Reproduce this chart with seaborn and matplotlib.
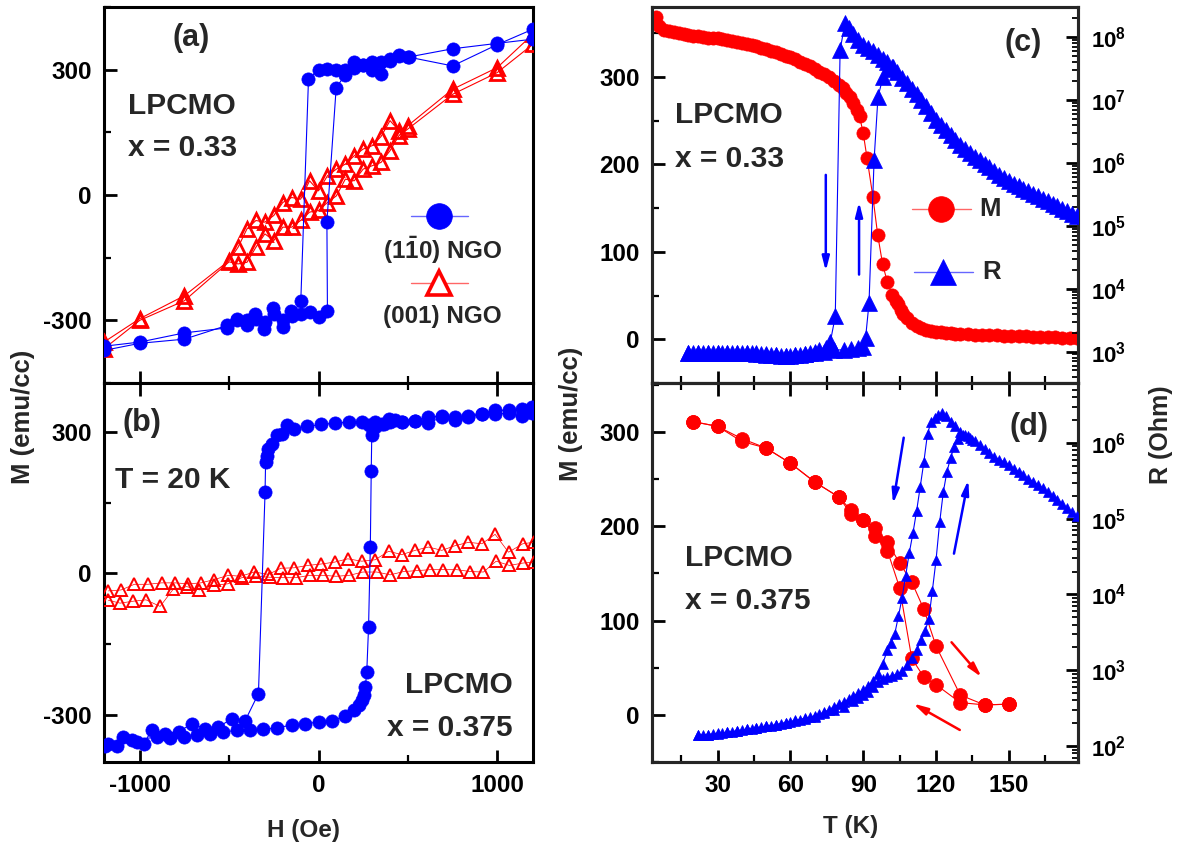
import numpy as np
import pandas as pd
import matplotlib
matplotlib.use("Agg")
import matplotlib.pyplot as plt
from matplotlib.ticker import MultipleLocator, LogLocator, FuncFormatter, NullFormatter
import seaborn as sns

# ---------------------------------------------------------------- data
# (a) LPCMO x = 0.33, M-H loops (Oe, emu/cc)
H_a_110_down = [1200, 1000, 750, 500, 450, 400, 350, 300, 250, 200, 150, 100, 50, 0, -56,
                -99, -150, -200, -250, -300, -350, -400, -455, -510, -750, -1000, -1200]
M_a_110_down = [373, 363, 350, 330, 335, 320, 318, 318, 310, 305, 300, 300, 302, 300, 277,
                -253, -290, -300, -285, -305, -298, -312, -300, -318, -330, -352, -362]
H_a_110_up = [-1200, -1000, -750, -510, -455, -400, -355, -305, -252, -200, -153, -100, -47, 0, 50,
              47, 99, 150, 200, 250, 300, 350, 400, 450, 505, 750, 1000, 1200]
M_a_110_up = [-372, -355, -345, -312, -296, -300, -285, -320, -271, -316, -277, -285, -281, -292, -277,
              -64, 257, 288, 318, 312, 300, 290, 325, 333, 330, 309, 360, 397]
H_a_001_down = [1200, 1000, 750, 500, 450, 400, 350, 300, 250, 200, 150, 100, 50, 0,
                -50, -100, -150, -200, -250, -300, -350, -400, -450, -500, -750, -1000, -1200]
M_a_001_down = [385, 305, 253, 166, 154, 178, 140, 118, 110, 94, 74, 62, 46, 10,
                34, -10, -6, -18, -49, -65, -61, -81, -125, -157, -241, -296, -352]
H_a_001_up = [-1200, -1000, -750, -500, -450, -400, -350, -300, -250, -200, -150, -100, -50, 0,
              50, 100, 150, 200, 250, 300, 350, 400, 450, 500, 750, 1000, 1200]
M_a_001_up = [-368, -300, -253, -160, -165, -161, -125, -93, -109, -77, -77, -61, -41, -37,
              -18, -2, 38, 34, 62, 70, 78, 106, 142, 158, 241, 293, 361]

# (b) LPCMO x = 0.375, M-H loops at T = 20 K
H_b_110_down = [1194, 1138, 1063, 988, 914, 839, 765, 690, 615, 541,
                466, 429, 392, 355, 317, 280, 242, 168, 93, 15,
                -62, -136, -177, -205, -233, -261, -280, -290, -296, -299,
                -336, -410, -485, -560, -634, -709, -783, -858, -932, -979,
                -1016, -1091, -1128, -1175]
M_b_110_down = [340, 333, 340, 338, 338, 331, 326, 331, 320, 324,
                321, 325, 328, 318, 322, 315, 321, 321, 319, 316,
                312, 307, 314, 296, 293, 275, 264, 250, 236, 172,
                -255, -312, -308, -326, -329, -319, -336, -340, -333, -361,
                -358, -347, -365, -361]
H_b_110_up = [-1194, -1044, -905, -830, -755, -681, -606, -532, -457, -382,
              -308, -233, -149, -75, 0, 75, 149, 196, 224, 242,
              255, 262, 270, 280, 290, 295, 298, 317, 364, 401,
              466, 541, 615, 690, 765, 839, 914, 988, 1063, 1138, 1194]
M_b_110_up = [-365, -354, -347, -350, -347, -343, -340, -336, -333, -333,
              -331, -327, -322, -319, -315, -312, -303, -290, -280, -268,
              -258, -240, -209, -114, 57, 218, 293, 310, 317, 321,
              321, 324, 331, 335, 331, 335, 338, 346, 346, 349, 353]
H_b_001_a = [-1175, -1104, -1030, -955, -877, -802, -728, -657, -584, -504,
             -435, -360, -280, -211, -136, -60, 15, 90, 164, 242,
             317, 392, 466, 541, 615, 690, 765, 839, 914, 988, 1063, 1143, 1203]
M_b_001_a = [-37, -35, -23, -23, -20, -20, -22, -20, -13, -4,
             -6, 3, -2, 11, 12, 17, 20, 24, 31, 26,
             29, 47, 40, 49, 56, 49, 59, 66, 63, 83, 45, 63, 66]
H_b_001_b = [-1175, -1110, -1039, -965, -886, -812, -737, -666, -584, -507,
             -429, -349, -274, -200, -125, -50, 24, 99, 173, 248,
             326, 401, 476, 550, 625, 699, 774, 849, 923, 994, 1068, 1143, 1203]
M_b_001_b = [-57, -63, -59, -56, -70, -33, -28, -35, -25, -22,
             -9, -6, -8, -9, -9, -4, -4, -6, -4, 3,
             3, -3, 4, 6, 8, 8, 8, 4, 3, 26, 17, 22, 24]

# (c) LPCMO x = 0.33: M(T) and R(T)
T_c_M = [4.5, 6, 8, 10, 12, 14, 16, 18, 20, 22, 24, 26, 28, 30, 32, 34, 36, 38, 40, 42,
         44, 46, 48, 50, 52, 54, 56, 58, 60, 62, 64, 66, 68, 70, 72, 74, 76, 78, 80, 81.5,
         83, 84.5, 86, 87.5, 88.5, 90, 91.6, 94, 96, 98, 100, 102, 103.5, 104.5, 105.5, 106.5, 108, 110, 112, 114,
         116, 118, 120, 122, 124, 126, 128, 130, 133, 136, 139, 142, 145, 148, 151, 154, 157, 160, 163, 166,
         169, 172, 175, 178]
M_c = [368, 358, 354, 352, 351, 350, 349, 348, 347, 346.5, 346, 345, 344.5, 344, 343, 342, 341, 340, 339, 337.5,
       336, 335, 333.5, 332, 330, 328.5, 326.5, 324.5, 322.5, 320, 317.5, 315, 312.5, 309.5, 306, 303, 299.5, 295.5, 291, 287,
       282, 277, 270, 262, 255, 236, 207, 163, 119, 86, 65, 51, 44, 40, 34, 29, 24, 19, 15, 12.5,
       11, 9.5, 8.5, 8, 7.4, 7, 6.6, 6.2, 5.8, 5.4, 5.1, 4.8, 4.5, 4.2, 3.9, 3.6, 3.3, 3, 2.7, 2.4,
       2.1, 1.8, 1.5, 1.2]
T_c_R_cool = [178, 176, 174, 172, 170, 168, 166, 164, 162, 160, 158, 156, 154, 152, 150, 148, 146, 144, 142, 140,
              138, 136, 134, 132, 130, 128, 126, 124, 122, 120, 118, 116, 114, 112, 110, 108, 106, 104, 102, 100,
              98, 96, 94, 92, 90, 88, 86, 84, 82.5, 80.5, 78.5, 76.5, 74.5, 72, 70, 68, 66, 64, 62, 60,
              58, 56, 54, 52, 50, 48, 46, 44, 42, 40, 38, 36, 34, 32, 30, 28, 26, 24, 22, 20, 18]
logR_c_cool = [5.15, 5.19, 5.23, 5.27, 5.31, 5.35, 5.39, 5.43, 5.47, 5.51, 5.55, 5.59, 5.63, 5.67, 5.72, 5.76, 5.81, 5.87, 5.93, 5.99,
               6.04, 6.10, 6.16, 6.22, 6.28, 6.36, 6.44, 6.52, 6.60, 6.69, 6.80, 6.90, 7.00, 7.09, 7.18, 7.27, 7.35, 7.44, 7.52, 7.60,
               7.66, 7.72, 7.78, 7.83, 7.88, 7.95, 8.05, 8.15, 8.22, 7.80, 3.56, 3.16, 3.06, 3.03, 3.00, 2.98, 2.96, 2.95, 2.94, 2.93,
               2.93, 2.93, 2.94, 2.95, 2.96, 2.96, 2.97, 2.97, 2.97, 2.98, 2.98, 2.98, 2.98, 2.98, 2.98, 2.98, 2.98, 2.98, 2.98, 2.98, 2.98]
T_c_R_warm = [18, 22, 26, 30, 34, 38, 42, 46, 50, 54, 58, 62, 66, 70, 74, 78, 82, 85, 88, 90,
              91, 92.4, 94.5, 96.1, 98.2, 100.3, 102.3]
logR_c_warm = [2.98, 2.98, 2.98, 2.98, 2.98, 2.97, 2.97, 2.96, 2.95, 2.94, 2.93, 2.94, 2.96, 2.98, 3.00, 3.02, 3.03, 3.04, 3.06, 3.08,
               3.22, 3.77, 6.05, 7.05, 7.37, 7.50, 7.52]

# (d) LPCMO x = 0.375: M(T) and R(T)
T_d_M_warm = [20, 30, 40, 50, 60, 70, 80, 85, 90, 95, 100, 105, 110, 115, 120, 130, 140, 150]
M_d_warm = [311, 306, 293, 283, 267, 247, 231, 217, 207, 198, 183, 161, 141, 112, 73, 21, 10.6, 11.3]
T_d_M_cool = [150, 140, 130, 120, 115, 110, 105, 100, 95, 90, 85, 80, 70, 60, 50, 40, 30, 20]
M_d_cool = [11.3, 10.6, 13, 32, 40, 60, 135, 174, 190, 207, 213, 231, 247, 267, 283, 290, 306, 311]
T_d_R_cool = [178, 176, 174, 172, 170, 168, 166, 164, 162, 160, 158, 156, 154, 152, 150, 148, 146, 144, 142, 140,
              138, 136, 134, 132, 130, 128, 126, 124, 122.5, 121, 119.5, 118, 116.5, 115, 113.5, 112, 110.5, 109, 107.5, 106,
              104.5, 103, 101.5, 100, 98, 96, 94, 92, 90, 88, 86, 84, 82, 80, 78, 76, 74, 72, 70, 68,
              66, 64, 62, 60, 58, 56, 54, 52, 50, 48, 46, 44, 42, 40, 38, 36, 34, 32, 30, 28, 26, 24, 22]
logR_d_cool = [5.03, 5.09, 5.14, 5.20, 5.25, 5.30, 5.35, 5.40, 5.45, 5.49, 5.53, 5.57, 5.62, 5.66, 5.71, 5.75, 5.78, 5.82, 5.86, 5.92,
               5.97, 6.02, 6.06, 6.10, 6.15, 6.22, 6.28, 6.35, 6.39, 6.37, 6.33, 6.28, 6.12, 5.75, 5.42, 5.10, 4.81, 4.55, 4.25, 3.95,
               3.71, 3.48, 3.36, 3.27, 3.08, 2.95, 2.86, 2.79, 2.74, 2.70, 2.66, 2.62, 2.58, 2.55, 2.52, 2.48, 2.45, 2.42, 2.40, 2.38,
               2.37, 2.35, 2.34, 2.32, 2.31, 2.29, 2.28, 2.27, 2.26, 2.25, 2.24, 2.22, 2.22, 2.21, 2.20, 2.19, 2.18, 2.17, 2.17, 2.16, 2.15, 2.15, 2.14]
T_d_R_warm = [22, 26, 30, 34, 38, 42, 46, 50, 54, 58, 62, 66, 70, 74, 78, 82, 86, 88, 90, 92,
              94, 96, 98, 100, 102, 104, 106, 108, 110, 112, 114, 115.5, 117, 118.5, 120, 121.5, 123, 124.5, 126, 127.5,
              129, 131, 133, 135]
logR_d_warm = [2.14, 2.15, 2.16, 2.18, 2.20, 2.22, 2.24, 2.26, 2.28, 2.31, 2.33, 2.36, 2.39, 2.43, 2.47, 2.52, 2.59, 2.63, 2.67, 2.72,
               2.78, 2.84, 2.88, 2.91, 2.93, 2.95, 2.99, 3.07, 3.16, 3.27, 3.40, 3.52, 3.67, 4.05, 4.45, 4.95, 5.35, 5.62, 5.80, 5.95,
               6.05, 6.11, 6.09, 6.04]

# ---------------------------------------------------------------- style
sns.set_theme(style="ticks")
plt.rcParams.update({
    "font.family": ["Liberation Sans", "DejaVu Sans"],
    "font.weight": "bold",
    "axes.labelweight": "bold",
    "axes.unicode_minus": False,
    "mathtext.fontset": "custom",
    "mathtext.rm": "Liberation Sans:bold",
    "mathtext.bf": "Liberation Sans:bold",
    "mathtext.it": "Liberation Sans:bold",
    "mathtext.default": "rm",
})

BLUE = "#0000ff"
RED = "#ff0000"
TICK_FS = 17.5


def trace(ax, x, y, color, marker, ms, filled=True, mew=0.5, lw=0.8, z=3):
    frame = pd.DataFrame({"x": np.asarray(x, float), "y": np.asarray(y, float)})
    sns.lineplot(data=frame, x="x", y="y", ax=ax, sort=False, estimator=None,
                 color=color, linewidth=lw, marker=marker, markersize=ms,
                 markerfacecolor=color if filled else "none",
                 markeredgecolor=color, markeredgewidth=mew, zorder=z)
    ax.set_xlabel("")
    ax.set_ylabel("")


def frame_axes(ax, top=False, labelbottom=True):
    for s in ax.spines.values():
        s.set_linewidth(2.2)
        s.set_color("black")
    ax.tick_params(which="both", direction="in", top=top, bottom=True, left=True, right=False,
                   labelbottom=labelbottom, labeltop=False, labelsize=TICK_FS, pad=9,
                   color="black", labelcolor="black")
    ax.tick_params(which="major", length=9, width=2.0)
    ax.tick_params(which="minor", length=5, width=1.6)


def log_axis(ax2, lo, hi):
    ax2.set_yscale("log")
    ax2.set_ylim(lo, hi)
    ax2.yaxis.set_major_locator(LogLocator(base=10, numticks=20))
    ax2.yaxis.set_minor_locator(LogLocator(base=10, subs=np.arange(2, 10), numticks=20))
    ax2.yaxis.set_major_formatter(FuncFormatter(lambda v, p: r"$10^{%d}$" % round(np.log10(v))))
    ax2.yaxis.set_minor_formatter(NullFormatter())
    ax2.tick_params(which="both", direction="in", right=True, left=False, labelsize=16, pad=9,
                    color="black", labelcolor="black")
    ax2.tick_params(which="major", length=9, width=2.0)
    ax2.tick_params(which="minor", length=4.5, width=1.3)
    for s in ax2.spines.values():
        s.set_linewidth(2.2)


def legend_key(ax, x0, x1, y, color, marker, ms, filled=True, mew=0.5):
    ax.plot([x0, x1], [y, y], transform=ax.transAxes, color=color, lw=1.0, alpha=0.6, zorder=5)
    ax.plot([(x0 + x1) / 2], [y], transform=ax.transAxes, marker=marker, ms=ms, color=color,
            mfc=color if filled else "white", mec=color, mew=mew, ls="none", zorder=6)


def arrow(ax, tail, tip, color):
    ax.annotate("", xy=tip, xytext=tail,
                arrowprops=dict(arrowstyle="-|>,head_length=0.7,head_width=0.18", color=color,
                                lw=1.8, shrinkA=0, shrinkB=0), zorder=7)


fig = plt.figure(figsize=(11.82, 8.48), dpi=100)


def box(l, t, r, b):
    return [l / 1182, 1 - b / 848, (r - l) / 1182, (b - t) / 848]


ax_a = fig.add_axes(box(104, 7, 533, 383))
ax_b = fig.add_axes(box(104, 383, 533, 762))
ax_c = fig.add_axes(box(652, 7, 1078, 383))
ax_d = fig.add_axes(box(652, 383, 1078, 762))

# ---------------------------------------------------------------- (a)
trace(ax_a, H_a_001_down, M_a_001_down, RED, "^", 10.5, filled=False, mew=2.0)
trace(ax_a, H_a_001_up, M_a_001_up, RED, "^", 10.5, filled=False, mew=2.0)
trace(ax_a, H_a_110_down, M_a_110_down, BLUE, "o", 9.5)
trace(ax_a, H_a_110_up, M_a_110_up, BLUE, "o", 9.5)
ax_a.set_xlim(-1200, 1200)
ax_a.set_ylim(-450, 450)
ax_a.xaxis.set_major_locator(MultipleLocator(1000))
ax_a.xaxis.set_minor_locator(MultipleLocator(500))
ax_a.yaxis.set_major_locator(MultipleLocator(300))
ax_a.yaxis.set_minor_locator(MultipleLocator(150))
frame_axes(ax_a, labelbottom=False)
ax_a.text(0.203, 0.918, "(a)", transform=ax_a.transAxes, ha="center", va="center", fontsize=22)
ax_a.text(0.056, 0.737, "LPCMO", transform=ax_a.transAxes, ha="left", va="center", fontsize=21.5)
ax_a.text(0.056, 0.625, "x = 0.33", transform=ax_a.transAxes, ha="left", va="center", fontsize=21.5)
legend_key(ax_a, 0.716, 0.848, 0.444, BLUE, "o", 18.5)
ax_a.text(0.789, 0.354, r"$(1\bar{1}0)$ NGO", transform=ax_a.transAxes, ha="center", va="center", fontsize=17.5)
legend_key(ax_a, 0.716, 0.848, 0.266, RED, "^", 17, filled=False, mew=2.6)
ax_a.text(0.789, 0.178, "(001) NGO", transform=ax_a.transAxes, ha="center", va="center", fontsize=17.5)

# ---------------------------------------------------------------- (b)
trace(ax_b, H_b_001_a, M_b_001_a, RED, "^", 8.5, filled=False, mew=1.4, lw=0.5)
trace(ax_b, H_b_001_b, M_b_001_b, RED, "^", 8.5, filled=False, mew=1.4, lw=0.5)
trace(ax_b, H_b_110_down, M_b_110_down, BLUE, "o", 9.5)
trace(ax_b, H_b_110_up, M_b_110_up, BLUE, "o", 9.5)
ax_b.set_xlim(-1200, 1200)
ax_b.set_ylim(-400, 404)
ax_b.xaxis.set_major_locator(MultipleLocator(1000))
ax_b.xaxis.set_minor_locator(MultipleLocator(500))
ax_b.yaxis.set_major_locator(MultipleLocator(300))
ax_b.yaxis.set_minor_locator(MultipleLocator(150))
frame_axes(ax_b, top=True)
ax_b.text(0.089, 0.894, "(b)", transform=ax_b.transAxes, ha="center", va="center", fontsize=22)
ax_b.text(0.026, 0.744, "T = 20 K", transform=ax_b.transAxes, ha="left", va="center", fontsize=21.5)
ax_b.text(0.953, 0.203, "LPCMO", transform=ax_b.transAxes, ha="right", va="center", fontsize=21.5)
ax_b.text(0.953, 0.090, "x = 0.375", transform=ax_b.transAxes, ha="right", va="center", fontsize=21.5)

# ---------------------------------------------------------------- (c)
trace(ax_c, T_c_M, M_c, RED, "o", 9.5)
ax_c.set_xlim(3, 178.5)
ax_c.set_ylim(-50, 380)
ax_c.xaxis.set_major_locator(MultipleLocator(30))
ax_c.xaxis.set_minor_locator(MultipleLocator(15))
ax_c.yaxis.set_major_locator(MultipleLocator(100))
ax_c.yaxis.set_minor_locator(MultipleLocator(50))
frame_axes(ax_c, labelbottom=False)
ax_c2 = ax_c.twinx()
log_axis(ax_c2, 10 ** 2.5, 10 ** 8.48)
trace(ax_c2, T_c_R_warm, 10 ** np.array(logR_c_warm), BLUE, "^", 11)
trace(ax_c2, T_c_R_cool, 10 ** np.array(logR_c_cool), BLUE, "^", 11)
ax_c2.set_xlim(3, 178.5)
arrow(ax_c, (74.6, 188), (74.6, 78), BLUE)
arrow(ax_c, (88.3, 74), (88.3, 157), BLUE)
ax_c.text(0.871, 0.904, "(c)", transform=ax_c.transAxes, ha="center", va="center", fontsize=22)
ax_c.text(0.054, 0.713, "LPCMO", transform=ax_c.transAxes, ha="left", va="center", fontsize=21.5)
ax_c.text(0.054, 0.596, "x = 0.33", transform=ax_c.transAxes, ha="left", va="center", fontsize=21.5)
legend_key(ax_c2, 0.610, 0.749, 0.463, RED, "o", 18.5)
ax_c2.text(0.768, 0.463, "M", transform=ax_c2.transAxes, ha="left", va="center", fontsize=18.5)
legend_key(ax_c2, 0.614, 0.753, 0.295, BLUE, "^", 18.5)
ax_c2.text(0.775, 0.295, "R", transform=ax_c2.transAxes, ha="left", va="center", fontsize=18.5)

# ---------------------------------------------------------------- (d)
trace(ax_d, T_d_M_warm, M_d_warm, RED, "o", 10)
trace(ax_d, T_d_M_cool, M_d_cool, RED, "o", 10)
ax_d.set_xlim(3, 178.5)
ax_d.set_ylim(-50, 352)
ax_d.xaxis.set_major_locator(MultipleLocator(30))
ax_d.xaxis.set_minor_locator(MultipleLocator(15))
ax_d.yaxis.set_major_locator(MultipleLocator(100))
ax_d.yaxis.set_minor_locator(MultipleLocator(50))
frame_axes(ax_d, top=True)
ax_d2 = ax_d.twinx()
log_axis(ax_d2, 10 ** 1.79, 10 ** 6.79)
trace(ax_d2, T_d_R_warm, 10 ** np.array(logR_d_warm), BLUE, "^", 6.5)
trace(ax_d2, T_d_R_cool, 10 ** np.array(logR_d_cool), BLUE, "^", 6.5)
ax_d2.set_xlim(3, 178.5)
arrow(ax_d, (106.7, 294), (102.3, 224), BLUE)
arrow(ax_d, (127.4, 171), (133.3, 249), BLUE)
arrow(ax_d, (126.4, 77), (138.8, 40), RED)
arrow(ax_d, (129.8, -16), (110.6, 12), RED)
ax_d.text(0.885, 0.884, "(d)", transform=ax_d.transAxes, ha="center", va="center", fontsize=22)
ax_d.text(0.077, 0.538, "LPCMO", transform=ax_d.transAxes, ha="left", va="center", fontsize=21.5)
ax_d.text(0.077, 0.425, "x = 0.375", transform=ax_d.transAxes, ha="left", va="center", fontsize=21.5)

# ---------------------------------------------------------------- axis titles
fig.text(304 / 1182, 1 - 830 / 848, "H (Oe)", ha="center", va="center", fontsize=17.5)
fig.text(851 / 1182, 1 - 826 / 848, "T (K)", ha="center", va="center", fontsize=17.5)
fig.text(23 / 1182, 1 - 417 / 848, "M (emu/cc)", ha="center", va="center", rotation=90, fontsize=18.5)
fig.text(571 / 1182, 1 - 414 / 848, "M (emu/cc)", ha="center", va="center", rotation=90, fontsize=18.5)
fig.text(1161 / 1182, 1 - 435 / 848, "R (Ohm)", ha="center", va="center", rotation=90, fontsize=18)

fig.savefig("out.png", dpi=100, facecolor="white")
